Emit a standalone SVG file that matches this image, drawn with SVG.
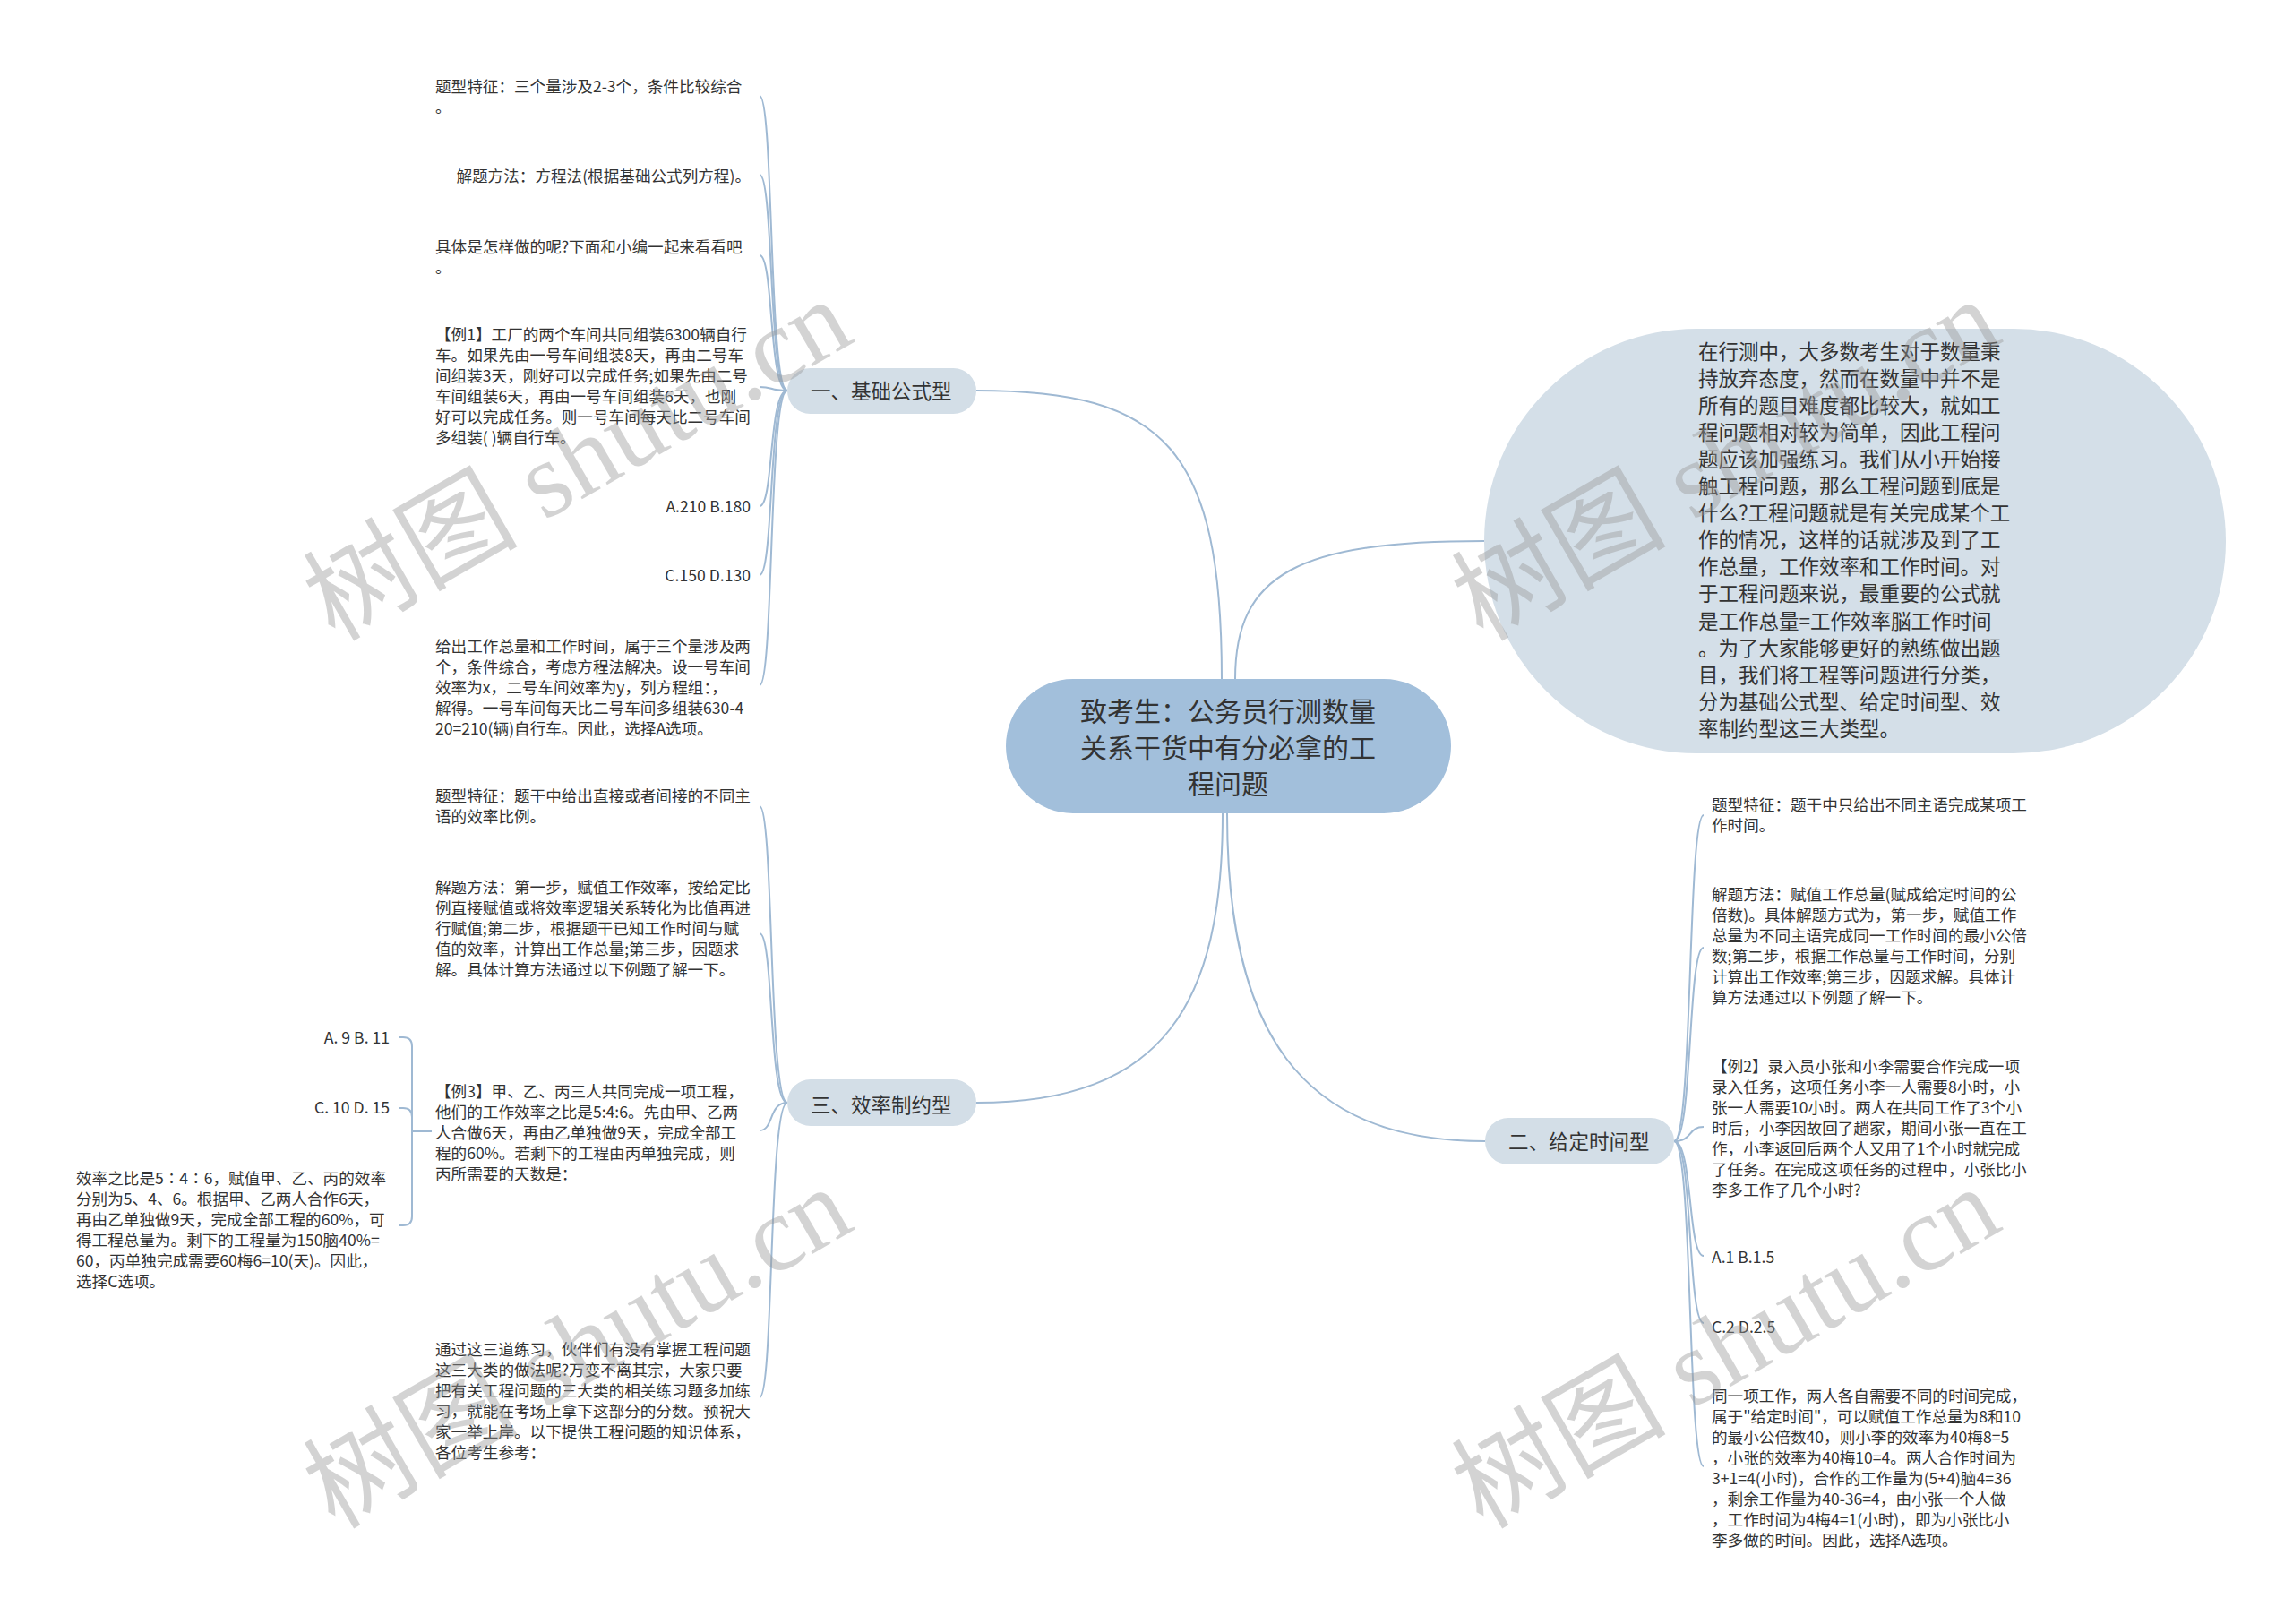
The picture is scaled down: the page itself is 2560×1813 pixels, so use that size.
<svg xmlns="http://www.w3.org/2000/svg" width="2560" height="1813" viewBox="0 0 2560 1813">
<style>
.t{font-family:"Noto Sans CJK SC","Liberation Sans",sans-serif;font-size:17.6px;fill:#333}
.e{text-anchor:end}
.b{font-family:"Noto Sans CJK SC","Liberation Sans",sans-serif;font-size:22.5px;fill:#333}
.c{font-family:"Noto Sans CJK SC","Liberation Sans",sans-serif;font-size:30px;fill:#333;text-anchor:middle}
.ln{fill:none;stroke:#9fb9d3;stroke-width:2}
.pill{fill:#d3dee7}
.wm{font-family:"Liberation Serif","Noto Sans CJK SC",serif;font-size:120px;fill:#999;opacity:0.42;text-anchor:middle}
</style>
<rect width="2560" height="1813" fill="#fff"/>
<g id="connectors">
<path class="ln" d="M1364 758 C1364 500 1300 436 1090 436"/>
<path class="ln" d="M1379 758 C1379 640 1450 604 1657 604"/>
<path class="ln" d="M1365 908 C1365 1120 1300 1231 1090 1231"/>
<path class="ln" d="M1370 908 C1370 1150 1450 1274 1658 1274"/>
<path class="ln" d="M879 436 C858 436 864 107 848 107"/>
<path class="ln" d="M879 436 C858 436 864 195 848 195"/>
<path class="ln" d="M879 436 C858 436 864 285 848 285"/>
<path class="ln" d="M879 436 C858 436 864 432 848 432"/>
<path class="ln" d="M879 436 C858 436 864 565 848 565"/>
<path class="ln" d="M879 436 C858 436 864 642 848 642"/>
<path class="ln" d="M879 436 C858 436 864 765 848 765"/>
<path class="ln" d="M879 1231 C858 1231 864 900 848 900"/>
<path class="ln" d="M879 1231 C858 1231 864 1042 848 1042"/>
<path class="ln" d="M879 1231 C858 1231 864 1262 848 1262"/>
<path class="ln" d="M879 1231 C858 1231 864 1560 848 1560"/>
<path class="ln" d="M1869 1274 C1890 1274 1884 910 1902 910"/>
<path class="ln" d="M1869 1274 C1890 1274 1884 1058 1902 1058"/>
<path class="ln" d="M1869 1274 C1890 1274 1884 1258 1902 1258"/>
<path class="ln" d="M1869 1274 C1890 1274 1884 1402 1902 1402"/>
<path class="ln" d="M1869 1274 C1890 1274 1884 1477 1902 1477"/>
<path class="ln" d="M1869 1274 C1890 1274 1884 1637 1902 1637"/>
<path class="ln" d="M482 1263 H460 V1168 Q460 1158 450 1158 H445"/>
<path class="ln" d="M482 1263 H460 V1247 Q460 1237 450 1237 H445"/>
<path class="ln" d="M482 1263 H460 V1358 Q460 1368 450 1368 H445"/>
</g>
<g id="center">
<rect x="1123" y="758" width="497" height="150" rx="75" fill="#a2bfdb"/>
<text class="c"><tspan x="1371" y="805">致考生：公务员行测数量</tspan><tspan x="1371" y="846">关系干货中有分必拿的工</tspan><tspan x="1371" y="886">程问题</tspan></text>
</g>
<g id="intro">
<rect x="1657" y="367" width="828" height="474" rx="237" fill="#d4dfe8"/>
<text class="b">
<tspan x="1896" y="401">在行测中，大多数考生对于数量秉</tspan>
<tspan x="1896" y="431">持放弃态度，然而在数量中并不是</tspan>
<tspan x="1896" y="461">所有的题目难度都比较大，就如工</tspan>
<tspan x="1896" y="491">程问题相对较为简单，因此工程问</tspan>
<tspan x="1896" y="521">题应该加强练习。我们从小开始接</tspan>
<tspan x="1896" y="551">触工程问题，那么工程问题到底是</tspan>
<tspan x="1896" y="581">什么?工程问题就是有关完成某个工</tspan>
<tspan x="1896" y="611">作的情况，这样的话就涉及到了工</tspan>
<tspan x="1896" y="641">作总量，工作效率和工作时间。对</tspan>
<tspan x="1896" y="671">于工程问题来说，最重要的公式就</tspan>
<tspan x="1896" y="702">是工作总量=工作效率脳工作时间</tspan>
<tspan x="1896" y="732">。为了大家能够更好的熟练做出题</tspan>
<tspan x="1896" y="762">目，我们将工程等问题进行分类，</tspan>
<tspan x="1896" y="792">分为基础公式型、给定时间型、效</tspan>
<tspan x="1896" y="822">率制约型这三大类型。</tspan>
</text>
</g>
<g id="branch1">
<rect class="pill" x="879" y="411" width="211" height="51" rx="25.5"/>
<text class="b" x="905" y="445">一、基础公式型</text>
</g>
<g id="branch3">
<rect class="pill" x="879" y="1205" width="211" height="52" rx="26"/>
<text class="b" x="905" y="1242">三、效率制约型</text>
</g>
<g id="branch2">
<rect class="pill" x="1658" y="1248" width="211" height="52" rx="26"/>
<text class="b" x="1684" y="1283">二、给定时间型</text>
</g>
<g id="b1-feature"><text class="t"><tspan x="486" y="103">题型特征：三个量涉及2-3个，条件比较综合</tspan><tspan x="486" y="126">。</tspan></text></g>
<g id="b1-method"><text class="t e" x="838" y="203">解题方法：方程法(根据基础公式列方程)。</text></g>
<g id="b1-how"><text class="t"><tspan x="486" y="282">具体是怎样做的呢?下面和小编一起来看看吧</tspan><tspan x="486" y="305">。</tspan></text></g>
<g id="b1-example"><text class="t">
<tspan x="486" y="380">【例1】工厂的两个车间共同组装6300辆自行</tspan>
<tspan x="486" y="403">车。如果先由一号车间组装8天，再由二号车</tspan>
<tspan x="486" y="426">间组装3天，刚好可以完成任务;如果先由二号</tspan>
<tspan x="486" y="449">车间组装6天，再由一号车间组装6天，也刚</tspan>
<tspan x="486" y="472">好可以完成任务。则一号车间每天比二号车间</tspan>
<tspan x="486" y="495">多组装( )辆自行车。</tspan>
</text></g>
<g id="b1-optAB"><text class="t e" x="838" y="572">A.210 B.180</text></g>
<g id="b1-optCD"><text class="t e" x="838" y="649">C.150 D.130</text></g>
<g id="b1-answer"><text class="t">
<tspan x="486" y="728">给出工作总量和工作时间，属于三个量涉及两</tspan>
<tspan x="486" y="751">个，条件综合，考虑方程法解决。设一号车间</tspan>
<tspan x="486" y="774">效率为x，二号车间效率为y，列方程组：，</tspan>
<tspan x="486" y="797">解得。一号车间每天比二号车间多组装630-4</tspan>
<tspan x="486" y="820">20=210(辆)自行车。因此，选择A选项。</tspan>
</text></g>
<g id="b3-feature"><text class="t"><tspan x="486" y="895">题型特征：题干中给出直接或者间接的不同主</tspan><tspan x="486" y="918">语的效率比例。</tspan></text></g>
<g id="b3-method"><text class="t">
<tspan x="486" y="997">解题方法：第一步，赋值工作效率，按给定比</tspan>
<tspan x="486" y="1020">例直接赋值或将效率逻辑关系转化为比值再进</tspan>
<tspan x="486" y="1043">行赋值;第二步，根据题干已知工作时间与赋</tspan>
<tspan x="486" y="1066">值的效率，计算出工作总量;第三步，因题求</tspan>
<tspan x="486" y="1089">解。具体计算方法通过以下例题了解一下。</tspan>
</text></g>
<g id="b3-example"><text class="t">
<tspan x="486" y="1225">【例3】甲、乙、丙三人共同完成一项工程，</tspan>
<tspan x="486" y="1248">他们的工作效率之比是5:4:6。先由甲、乙两</tspan>
<tspan x="486" y="1271">人合做6天，再由乙单独做9天，完成全部工</tspan>
<tspan x="486" y="1294">程的60%。若剩下的工程由丙单独完成，则</tspan>
<tspan x="486" y="1317">丙所需要的天数是：</tspan>
</text></g>
<g id="b3-optAB"><text class="t e" x="435" y="1165">A. 9 B. 11</text></g>
<g id="b3-optCD"><text class="t e" x="435" y="1243">C. 10 D. 15</text></g>
<g id="b3-answer"><text class="t">
<tspan x="85" y="1322">效率之比是5∶4∶6，赋值甲、乙、丙的效率</tspan>
<tspan x="85" y="1345">分别为5、4、6。根据甲、乙两人合作6天，</tspan>
<tspan x="85" y="1368">再由乙单独做9天，完成全部工程的60%，可</tspan>
<tspan x="85" y="1391">得工程总量为。剩下的工程量为150脑40%=</tspan>
<tspan x="85" y="1414">60，丙单独完成需要60梅6=10(天)。因此，</tspan>
<tspan x="85" y="1437">选择C选项。</tspan>
</text></g>
<g id="b3-summary"><text class="t">
<tspan x="486" y="1513">通过这三道练习，伙伴们有没有掌握工程问题</tspan>
<tspan x="486" y="1536">这三大类的做法呢?万变不离其宗，大家只要</tspan>
<tspan x="486" y="1559">把有关工程问题的三大类的相关练习题多加练</tspan>
<tspan x="486" y="1582">习，就能在考场上拿下这部分的分数。预祝大</tspan>
<tspan x="486" y="1605">家一举上岸。以下提供工程问题的知识体系，</tspan>
<tspan x="486" y="1628">各位考生参考：</tspan>
</text></g>
<g id="b2-feature"><text class="t"><tspan x="1911" y="905">题型特征：题干中只给出不同主语完成某项工</tspan><tspan x="1911" y="928">作时间。</tspan></text></g>
<g id="b2-method"><text class="t">
<tspan x="1911" y="1005">解题方法：赋值工作总量(赋成给定时间的公</tspan>
<tspan x="1911" y="1028">倍数)。具体解题方式为，第一步，赋值工作</tspan>
<tspan x="1911" y="1051">总量为不同主语完成同一工作时间的最小公倍</tspan>
<tspan x="1911" y="1074">数;第二步，根据工作总量与工作时间，分别</tspan>
<tspan x="1911" y="1097">计算出工作效率;第三步，因题求解。具体计</tspan>
<tspan x="1911" y="1120">算方法通过以下例题了解一下。</tspan>
</text></g>
<g id="b2-example"><text class="t">
<tspan x="1911" y="1197">【例2】录入员小张和小李需要合作完成一项</tspan>
<tspan x="1911" y="1220">录入任务，这项任务小李一人需要8小时，小</tspan>
<tspan x="1911" y="1243">张一人需要10小时。两人在共同工作了3个小</tspan>
<tspan x="1911" y="1266">时后，小李因故回了趟家，期间小张一直在工</tspan>
<tspan x="1911" y="1289">作，小李返回后两个人又用了1个小时就完成</tspan>
<tspan x="1911" y="1312">了任务。在完成这项任务的过程中，小张比小</tspan>
<tspan x="1911" y="1335">李多工作了几个小时?</tspan>
</text></g>
<g id="b2-optAB"><text class="t" x="1911" y="1410">A.1 B.1.5</text></g>
<g id="b2-optCD"><text class="t" x="1911" y="1488">C.2 D.2.5</text></g>
<g id="b2-answer"><text class="t">
<tspan x="1911" y="1565">同一项工作，两人各自需要不同的时间完成，</tspan>
<tspan x="1911" y="1588">属于"给定时间"，可以赋值工作总量为8和10</tspan>
<tspan x="1911" y="1611">的最小公倍数40，则小李的效率为40梅8=5</tspan>
<tspan x="1911" y="1634">，小张的效率为40梅10=4。两人合作时间为</tspan>
<tspan x="1911" y="1657">3+1=4(小时)，合作的工作量为(5+4)脑4=36</tspan>
<tspan x="1911" y="1680">，剩余工作量为40-36=4，由小张一个人做</tspan>
<tspan x="1911" y="1703">，工作时间为4梅4=1(小时)，即为小张比小</tspan>
<tspan x="1911" y="1726">李多做的时间。因此，选择A选项。</tspan>
</text></g>
<g id="watermarks">
<text class="wm" transform="translate(645 514) rotate(-30)" y="40">树图 shutu.cn</text>
<text class="wm" transform="translate(1927 514) rotate(-30)" y="40">树图 shutu.cn</text>
<text class="wm" transform="translate(645 1505) rotate(-30)" y="40">树图 shutu.cn</text>
<text class="wm" transform="translate(1927 1505) rotate(-30)" y="40">树图 shutu.cn</text>
</g>
</svg>
